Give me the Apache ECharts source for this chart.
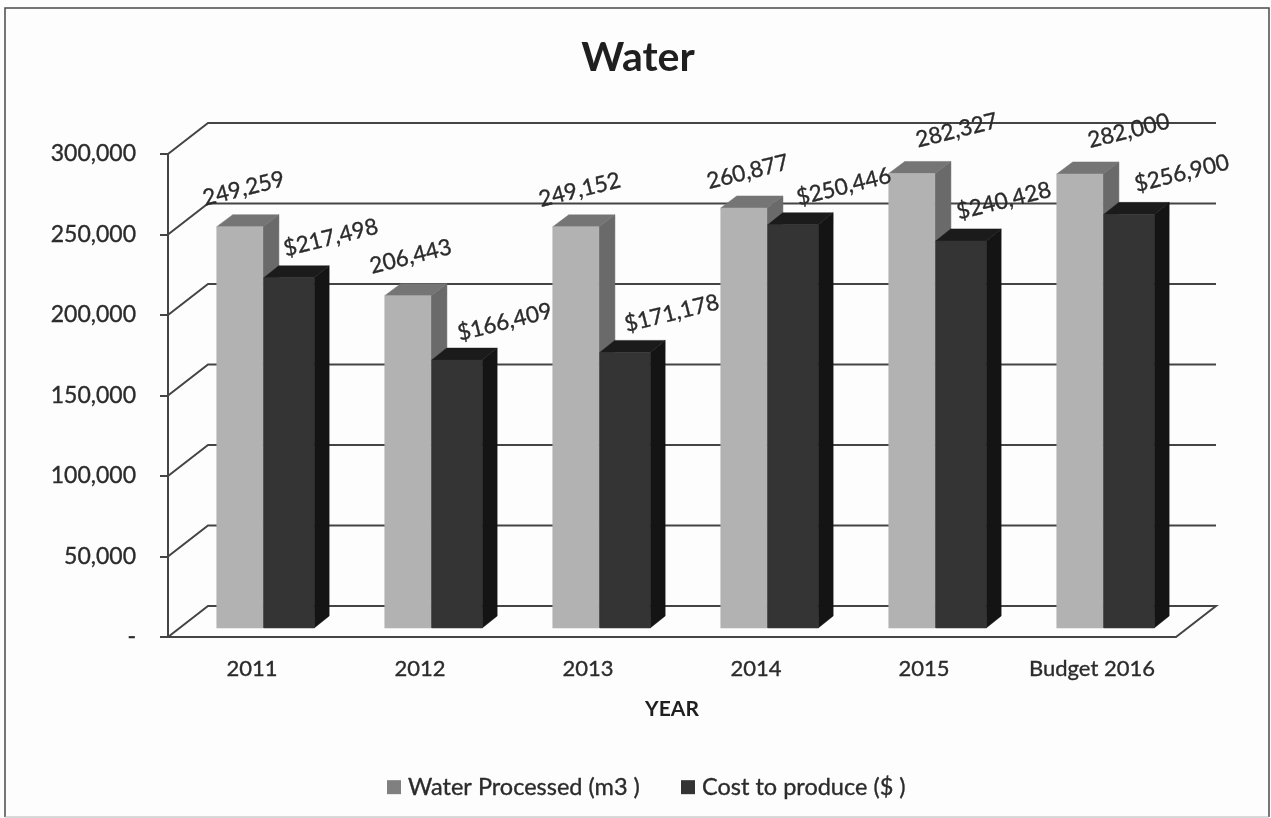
<!DOCTYPE html>
<html>
<head>
<meta charset="utf-8">
<style>html,body{margin:0;padding:0;background:#fdfdfd}#c{width:1271px;height:818px}</style>
<script src="https://cdn.jsdelivr.net/npm/echarts@6/dist/echarts.min.js"></script>
</head>
<body>
<div id="c"></div>
<script>
// Values
const categories = ['2011', '2012', '2013', '2014', '2015', 'Budget 2016'];
const waterProcessed = [249259, 206443, 249152, 260877, 282327, 282000];
const costToProduce = [217498, 166409, 171178, 250446, 240428, 256900];
const yTicks = [0, 50000, 100000, 150000, 200000, 250000, 300000];

// Oblique projection used for the walls and the box sides
const WALL_DX = 40, WALL_DY = -31;
const BAR_DY = -12;
const FLOOR_LIFT = 9;

// Value-label nudges relative to each bar's top-left corner
const waterLabelNudge = [[27, -38], [26, -39], [27, -37], [27, -36], [68, -43], [72, -43]];
const costLabelNudge = [[67, -40], [73, -38], [72, -39], [76, -38], [68, -40], [78, -41]];

const INK = '#2b2b2b';
const FONT = 'Lato, "Open Sans", sans-serif';
const LABEL_TILT = 14 * Math.PI / 180;
const inkEdge = { textBorderColor: INK, textBorderWidth: 0.35 };

function boxSeries(name, values, z, from, to, depth, colors, nudges, prefix) {
  return {
    name, type: 'custom', z, clip: false,
    itemStyle: { color: colors.legend },
    data: values.map((v, i) => [i, v]),
    renderItem(params, api) {
      const i = api.value(0), v = api.value(1);
      const band = api.size([1, 0])[0];
      const start = api.coord([i, 0])[0] - band / 2;
      const x0 = start + band * from, x1 = start + band * to;
      const base = api.coord([i, 0])[1] - FLOOR_LIFT;
      const top = api.coord([i, v])[1] - FLOOR_LIFT;
      const poly = (points, fill) => ({ type: 'polygon', shape: { points }, style: { fill, stroke: fill, lineWidth: 0.5 } });
      return {
        type: 'group',
        children: [
          poly([[x1, base], [x1 + depth, base + BAR_DY], [x1 + depth, top + BAR_DY], [x1, top]], colors.side),
          poly([[x0, top], [x0 + depth, top + BAR_DY], [x1 + depth, top + BAR_DY], [x1, top]], colors.top),
          poly([[x0, base], [x1, base], [x1, top], [x0, top]], colors.front),
          {
            type: 'text',
            x: x0 + nudges[i][0], y: top + nudges[i][1],
            rotation: LABEL_TILT, z2: 10,
            style: {
              text: prefix + v.toLocaleString('en-US'),
              fill: INK, stroke: INK, lineWidth: 0.35, font: '22.5px ' + FONT,
              align: 'center', verticalAlign: 'middle'
            }
          }
        ]
      };
    }
  };
}

const chart = echarts.init(document.getElementById('c'));
chart.setOption({
  animation: false,
  backgroundColor: '#fdfdfd',
  title: {
    text: 'Water', left: 633, top: 32, textAlign: 'center',
    textStyle: { fontFamily: FONT, fontSize: 41, fontWeight: 'bold', color: '#1f1f1f' }
  },
  legend: {
    data: ['Water Processed (m3 )', 'Cost to produce ($ )'],
    left: 382, top: 770, icon: 'rect', itemWidth: 14, itemHeight: 14, itemGap: 41,
    textStyle: { fontFamily: FONT, fontSize: 23.5, color: INK, padding: [0, 0, 0, 2], ...inkEdge }
  },
  graphic: [
    {
      type: 'polyline', silent: true, z: -1,
      shape: { points: [[5, 817], [5, 8], [1269, 8], [1269, 817]] },
      style: { fill: 'none', stroke: '#4a4a4a', lineWidth: 1.5 }
    },
    {
      type: 'line', silent: true, z: -1,
      shape: { x1: 5, y1: 817, x2: 1269, y2: 817 },
      style: { stroke: '#b5b5b5', lineWidth: 1 }
    }
  ],
  grid: { left: 168, right: 95, top: 154, bottom: 181 },
  xAxis: {
    type: 'category', data: categories,
    name: 'YEAR', nameLocation: 'middle', nameGap: 62,
    nameTextStyle: { fontFamily: FONT, fontSize: 21, fontWeight: 'bold', color: '#1f1f1f' },
    axisLine: { lineStyle: { color: '#444', width: 2 } },
    axisTick: { alignWithLabel: false, interval: 0, length: 8, lineStyle: { color: '#444', width: 2 } },
    axisLabel: { interval: 0, fontFamily: FONT, fontSize: 22, color: INK, margin: 21, ...inkEdge }
  },
  yAxis: {
    type: 'value', min: 0, max: 300000, interval: 50000,
    splitLine: { show: false },
    axisLine: { show: true, lineStyle: { color: '#444', width: 2 } },
    axisTick: { show: true, length: 8, lineStyle: { color: '#444', width: 2 } },
    axisLabel: {
      fontFamily: FONT, fontSize: 23, color: INK,
      align: 'right', margin: 32, ...inkEdge,
      formatter: v => v === 0 ? '-' : v.toLocaleString('en-US')
    }
  },
  series: [
    {
      name: 'walls', type: 'custom', z: 1, clip: false, silent: true,
      data: yTicks.map(v => [0, v]),
      renderItem(params, api) {
        const v = api.value(1);
        const y = api.coord([0, v])[1];
        const { x, width } = params.coordSys;
        const backY = y + WALL_DY;
        const pts = [[x, y], [x + WALL_DX, backY], [x + width + WALL_DX, backY]];
        if (v === 0) pts.push([x + width, y]);
        return { type: 'polyline', shape: { points: pts }, style: { fill: 'none', stroke: '#444', lineWidth: 2 } };
      }
    },
    boxSeries('Water Processed (m3 )', waterProcessed, 3, 0.29, 0.565, 16,
      { legend: '#808080', front: '#b2b2b2', side: '#6a6a6a', top: '#757575' }, waterLabelNudge, ''),
    boxSeries('Cost to produce ($ )', costToProduce, 4, 0.57, 0.87, 15,
      { legend: '#333333', front: '#343434', side: '#141414', top: '#1b1b1b' }, costLabelNudge, '$')
  ]
});
</script>
</body>
</html>
